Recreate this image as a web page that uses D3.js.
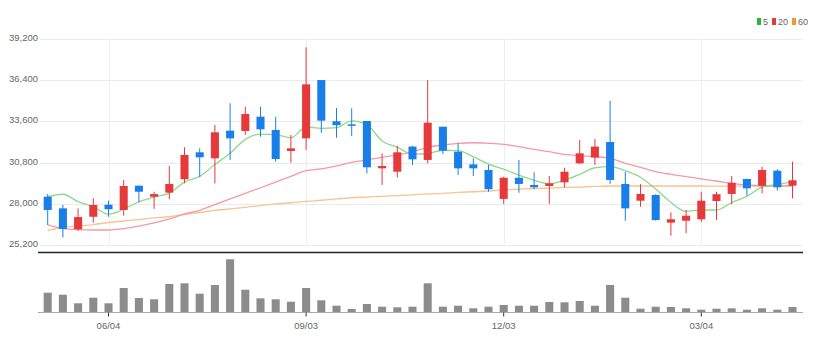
<!DOCTYPE html>
<html><head><meta charset="utf-8">
<script src="https://cdn.jsdelivr.net/npm/d3@7"></script>
<style>
html,body{margin:0;padding:0;background:#fff;}
svg{display:block;font-family:"Liberation Sans Narrow","Liberation Sans",Arial,sans-serif;}
</style></head>
<body><svg id="c" width="819" height="351"></svg>
<script>
const dates = ["05/07","05/14","05/21","05/28","06/04","06/11","06/18","06/25","07/02","07/09",
"07/16","07/23","07/30","08/06","08/13","08/20","08/27","09/03","09/10","09/17",
"09/24","10/01","10/08","10/15","10/22","10/29","11/05","11/12","11/19","11/26",
"12/03","12/10","12/17","12/24","12/31","01/07","01/14","01/21","01/28","02/04",
"02/11","02/18","02/25","03/04","03/11","03/18","03/25","04/01","04/08","04/15"];
const openP  = [28480,27690,26270,27120,27940,27580,29230,28480,28760,29670,31500,31090,32970,32950,33920,33020,31590,32450,36410,33610,33400,33630,30410,30180,31890,30980,33240,31540,30680,30300,28330,29770,29280,29210,29460,30750,31140,32200,29350,28210,28600,26720,26850,26950,28190,28670,29690,29230,30250,29230];
const highP  = [28670,27920,27690,28370,28210,29620,29230,28820,30570,31840,31770,33360,34830,34600,34600,33920,32680,38640,36410,34510,34490,33630,31430,31950,31930,36410,33240,32110,31090,30640,29840,30980,30140,29890,30450,32340,32400,35010,30180,29330,28650,27420,27580,28820,28820,29890,29690,30520,30350,30860];
const lowP   = [26560,25720,26150,26720,27120,27190,28090,27650,28310,29390,29820,29390,30980,32680,32560,30860,30790,31660,32830,32490,32600,30070,29280,29780,30640,30750,31380,29960,29890,28820,27990,28750,28990,27990,29120,30710,30640,29350,26850,27800,26850,25830,26000,26780,26900,27970,28550,28710,28890,28370];
const closeP = [27580,26290,27100,27920,27630,29210,28820,28660,29350,31320,31160,32860,32450,34100,33060,31040,31770,36120,33650,33340,33310,30480,30570,31500,31020,33510,31610,30410,30410,28990,29770,29350,29120,29390,30180,31430,31890,29620,27690,28670,26900,26950,27190,28210,28650,29430,29050,30300,29120,29600];
const volume = [193,173,87,143,87,240,140,127,280,287,183,270,527,223,137,127,103,240,117,63,30,80,53,47,53,287,53,63,37,53,70,63,63,100,97,110,63,270,143,33,53,50,37,23,33,37,23,37,23,50].map(v=>v*1000);
const ma5  = [28480,28650,28150,27800,27300,27630,28140,28450,28730,29470,29860,30670,31430,32380,32730,32700,32490,33220,33130,33180,33640,33380,32270,31840,31380,31420,31640,31610,31200,30700,30350,29950,29600,29350,29600,30000,30450,30520,30250,29800,29000,28100,27480,27580,27580,28090,28510,29130,29310,29500];
const ma20 = [26560,26320,26250,26220,26220,26320,26490,26700,26970,27310,27560,27940,28330,28710,29090,29480,29870,30250,30370,30570,30820,30980,31160,31320,31540,31840,32000,32110,32150,32110,32040,31880,31700,31540,31360,31270,31200,31090,30750,30480,30180,30000,29840,29690,29550,29390,29280,29230,29230,29230];
const ma60 = [26190,26390,26490,26590,26730,26830,26930,27040,27120,27270,27410,27550,27650,27760,27880,27990,28070,28160,28240,28330,28410,28460,28510,28560,28610,28670,28710,28770,28820,28870,28940,28990,29040,29070,29110,29140,29180,29210,29210,29210,29210,29210,29210,29210,29200,29200,29200,29190,29190,29190];
const priceTicks = [25200,28000,30800,33600,36400,39200];
const tickDates = ["06/04","09/03","12/03","03/04"];
const legendItems = ["5","20","60"];

const svg = d3.select("#c");
const idx = d3.range(dates.length);
const x = d3.scaleBand().domain(idx).range([40.1, 800.1]).paddingInner(0.47).paddingOuter(0.235);
const cx = i => x(i) + x.bandwidth()/2;
const y = d3.scaleLinear().domain([25200,39200]).range([245,39]);
const yv = d3.scaleLinear().domain([0,527000]).range([312,259.3]);
const up = "#e6393c", down = "#1a7ee8";

// grid
svg.append("g").selectAll("line").data(priceTicks).join("line")
  .attr("x1",40).attr("x2",802).attr("y1",d=>Math.round(y(d))+0.5).attr("y2",d=>Math.round(y(d))+0.5)
  .attr("stroke","#ebebeb").attr("stroke-width",1);
const tickIdx = tickDates.map(t=>dates.indexOf(t));
svg.append("g").selectAll("line").data(tickIdx).join("line")
  .attr("x1",d=>Math.round(cx(d))+0.5).attr("x2",d=>Math.round(cx(d))+0.5).attr("y1",39).attr("y2",245)
  .attr("stroke","#efefef");

// y axis labels
const yAxis = d3.axisLeft(y).tickValues(priceTicks).tickFormat(d3.format(",")).tickSize(0).tickPadding(0);
const ya = svg.append("g").attr("transform","translate(38,-1.5)").call(yAxis);
ya.select(".domain").remove();
ya.selectAll("text").attr("fill","#666").attr("font-size","9.5px").attr("font-family","Liberation Sans Narrow, Liberation Sans, sans-serif");

// MA lines
const line = d3.line().x((d,i)=>cx(i)).y(d=>y(d)).curve(d3.curveMonotoneX);
[[ma60,"#f7c493"],[ma20,"#f29aa6"],[ma5,"#8ed88a"]].forEach(([s,c])=>{
  svg.append("path").attr("d",line(s)).attr("fill","none").attr("stroke",c).attr("stroke-width",1.3);
});

// candles
const cg = svg.append("g");
idx.forEach(i=>{
  const col = closeP[i] >= openP[i] ? up : down;
  cg.append("line").attr("x1",cx(i)).attr("x2",cx(i)).attr("y1",y(highP[i])).attr("y2",y(lowP[i]))
    .attr("stroke",col).attr("stroke-width",1);
  const top = y(Math.max(openP[i],closeP[i])), bot = y(Math.min(openP[i],closeP[i]));
  cg.append("rect").attr("x",x(i)).attr("width",x.bandwidth()).attr("y",top).attr("height",Math.max(1.5,bot-top)).attr("fill",col);
});

// separator
svg.append("line").attr("x1",38).attr("x2",803).attr("y1",252.5).attr("y2",252.5).attr("stroke","#222").attr("stroke-width",1.6);

// volume
svg.append("g").selectAll("rect").data(volume).join("rect")
  .attr("x",(d,i)=>x(i)).attr("width",x.bandwidth()).attr("y",d=>yv(d)).attr("height",d=>312-yv(d)).attr("fill","#8c8c8c");

// x axis
const xa = d3.axisBottom(x).tickValues(tickIdx).tickFormat(i=>dates[i]).tickSize(4).tickPadding(6);
const xg = svg.append("g").attr("transform","translate(0,312.5)").call(xa);
xg.select(".domain").attr("d","M38,0H803").attr("stroke","#aaa");
xg.selectAll(".tick line").attr("stroke","#333");
xg.selectAll("text").attr("fill","#666").attr("font-size","9.5px").attr("font-family","Liberation Sans Narrow, Liberation Sans, sans-serif");

// legend
const legCols = ["#2bb63b","#e53935","#f5962a"];
const lg = svg.append("g").attr("transform","translate(757,22)");
let lx = 0;
legendItems.forEach((t,k)=>{
  lg.append("rect").attr("x",lx).attr("y",-4).attr("width",4).attr("height",7).attr("fill",legCols[k]);
  const tx = lg.append("text").attr("x",lx+6).attr("y",3).attr("font-size","9px").attr("fill","#666").text(t);
  lx += 6 + tx.node().getComputedTextLength() + 4;
});
</script>
</body></html>
